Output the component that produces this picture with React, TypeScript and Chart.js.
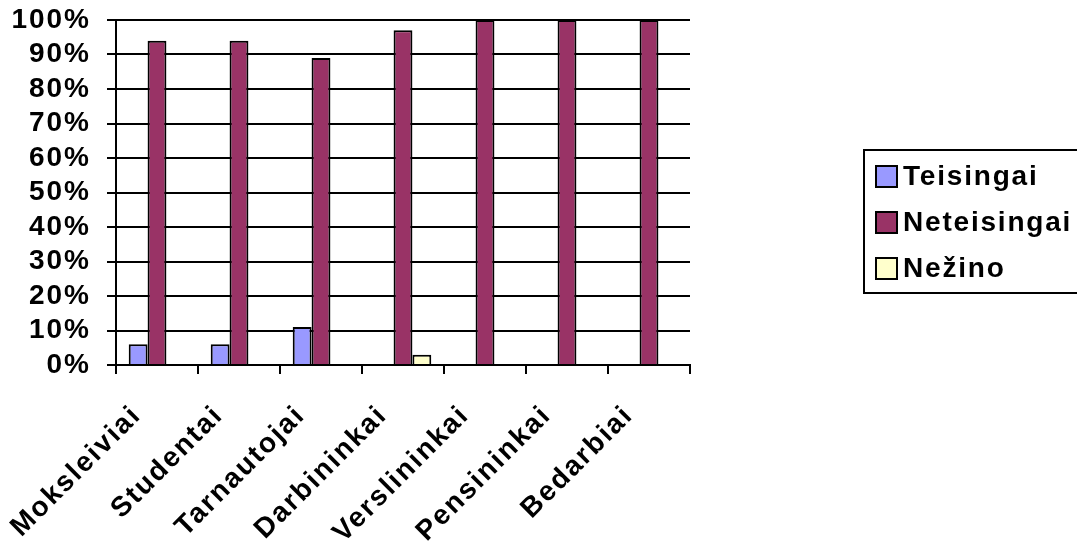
import { useEffect, useRef } from 'react';
import { Chart, registerables } from 'chart.js';

Chart.register(...registerables);

const categories = ['Moksleiviai', 'Studentai', 'Tarnautojai', 'Darbininkai', 'Verslininkai', 'Pensininkai', 'Bedarbiai'];
const teisingai = [6, 6, 11, 0, 0, 0, 0];
const neteisingai = [94, 94, 89, 97, 100, 100, 100];
const nezino = [0, 0, 0, 3, 0, 0, 0];
const seriesNames = ['Teisingai', 'Neteisingai', 'Nežino'];
const seriesColors = ['#9999FF', '#993366', '#FFFFCC'];
const yMax = 100;
const yStep = 10;

const FONT = "'Liberation Sans', Arial, sans-serif";

const spacingPlugin = {
  id: 'spacing',
  beforeLayout(chart: any) {
    (chart.ctx as any).letterSpacing = '2px';
  },
  beforeDraw(chart: any) {
    (chart.ctx as any).letterSpacing = '2px';
  },
};

const boxedLegend = {
  id: 'boxedLegend',
  afterDraw(chart: any) {
    const ctx = chart.ctx;
    ctx.save();
    (ctx as any).letterSpacing = '1.8px';
    const left = 864;
    const top = 150;
    const bottom = 293;
    ctx.lineWidth = 2;
    ctx.strokeStyle = '#000';
    ctx.strokeRect(left, top, 260, bottom - top);
    ctx.font = `bold 28px ${FONT}`;
    ctx.textBaseline = 'middle';
    ctx.textAlign = 'left';
    chart.data.datasets.forEach((ds: any, i: number) => {
      const sy = 166 + i * 46;
      ctx.fillStyle = ds.backgroundColor;
      ctx.fillRect(876, sy, 21, 21);
      ctx.lineWidth = 2;
      ctx.strokeRect(876, sy, 21, 21);
      ctx.fillStyle = '#000';
      ctx.fillText(ds.label, 903, sy + 11);
    });
    ctx.restore();
  },
};

export default function App() {
  const ref = useRef<HTMLCanvasElement | null>(null);

  useEffect(() => {
    if (!ref.current) return;
    const chart = new Chart(ref.current, {
      type: 'bar',
      data: {
        labels: categories,
        datasets: [teisingai, neteisingai, nezino].map((d, i) => ({
          label: seriesNames[i],
          data: d,
          backgroundColor: seriesColors[i],
          borderColor: '#000',
          borderWidth: 2,
          borderSkipped: 'bottom',
          categoryPercentage: 0.69,
          barPercentage: 1,
        })),
      },
      options: {
        animation: false,
        responsive: true,
        maintainAspectRatio: false,
        layout: { padding: { top: 20, right: 387, left: 0, bottom: 0 } },
        plugins: {
          legend: { display: false },
          tooltip: { enabled: false },
        },
        scales: {
          x: {
            grid: { drawOnChartArea: false, drawTicks: true, tickLength: 9, color: '#000', lineWidth: 2 },
            border: { display: true, color: '#000', width: 2 },
            ticks: {
              color: '#000',
              font: { family: FONT, size: 28, weight: 'bold' },
              maxRotation: 45,
              minRotation: 45,
              padding: 25,
              labelOffset: -20,
              autoSkip: false,
            },
            afterFit(scale: any) {
              scale.height = 176;
              scale.paddingLeft = 0;
              scale.paddingRight = 0;
            },
          },
          y: {
            min: 0,
            max: yMax,
            grid: { color: '#000', lineWidth: 2, tickLength: 9, drawTicks: true },
            border: { display: true, color: '#000', width: 2 },
            ticks: {
              stepSize: yStep,
              autoSkip: false,
              color: '#000',
              padding: 16,
              font: { family: FONT, size: 28, weight: 'bold' },
              callback: (v: any) => `${v}%`,
            },
            afterFit(scale: any) {
              scale.width = 116;
              scale.paddingTop = 0;
              scale.paddingBottom = 0;
            },
          },
        },
      },
      plugins: [spacingPlugin, boxedLegend],
    });
    return () => chart.destroy();
  }, []);

  return (
    <div style={{ position: 'fixed', left: 0, top: 0, width: 1077, height: 541, background: '#fff' }}>
      <canvas ref={ref} />
    </div>
  );
}
